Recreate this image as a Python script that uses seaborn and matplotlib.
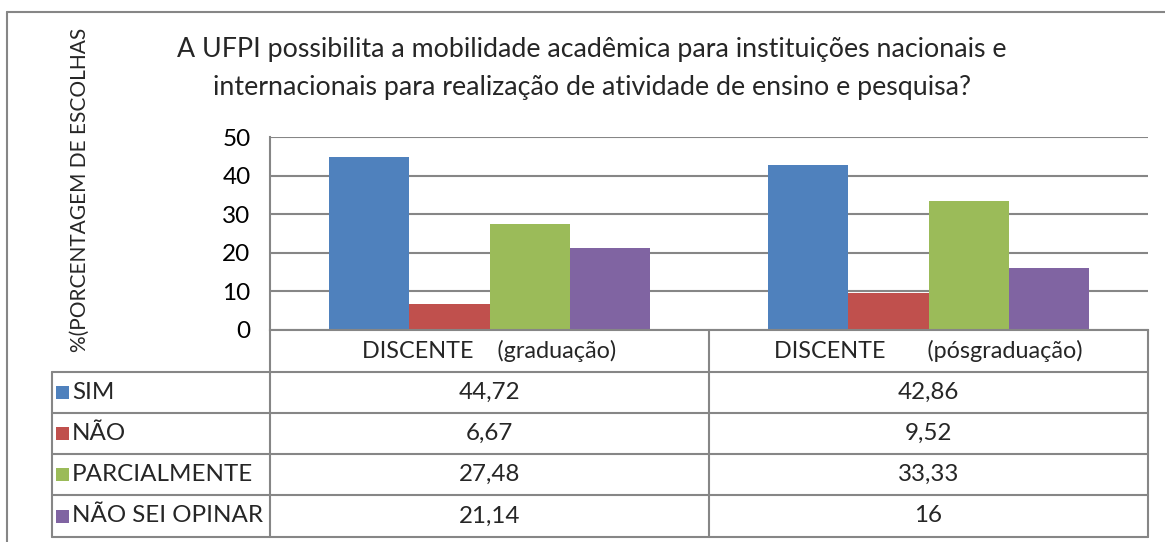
import numpy as np
import pandas as pd
import matplotlib
matplotlib.use("Agg")
import matplotlib.pyplot as plt
import seaborn as sns
from matplotlib.lines import Line2D
from matplotlib.patches import Rectangle

# ----------------------------------------------------------------------
# data
# ----------------------------------------------------------------------
groups = ["DISCENTE    (graduação)", "DISCENTE       (pósgraduação)"]
answers = ["SIM", "NÃO", "PARCIALMENTE", "NÃO SEI OPINAR"]
grad_values = [44.72, 6.67, 27.48, 21.14]
posgrad_values = [42.86, 9.52, 33.33, 16]
colors = ["#4F81BD", "#C0504D", "#9BBB59", "#8064A2"]
title_lines = ["A UFPI possibilita a mobilidade acadêmica para instituições nacionais e",
               "internacionais para realização de atividade de ensino e pesquisa?"]
ylabel = "%(PORCENTAGEM DE ESCOLHAS"

df = pd.DataFrame({
    "grupo": [groups[0]] * 4 + [groups[1]] * 4,
    "resposta": answers * 2,
    "valor": grad_values + posgrad_values,
})

sns.set_style("white")
plt.rcParams["font.family"] = ["Lato", "DejaVu Sans"]

W, H = 1165, 542
fig = plt.figure(figsize=(W / 100, H / 100), dpi=100)

def fx(x):
    return x / W

def fy(y):
    return 1 - y / H

grid_c = "#868686"

# outer chart frame (cropped at right and bottom)
fig.add_artist(Line2D([fx(7), 1], [fy(12), fy(12)], color=grid_c, lw=1.5))
fig.add_artist(Line2D([fx(7), fx(7)], [fy(12), 0], color=grid_c, lw=1.5))

# plot area
left, right, top, bottom = 270, 1148, 137, 330
ax = fig.add_axes([fx(left), fy(bottom), fx(right - left), (bottom - top) / H])
sns.barplot(data=df, x="grupo", y="valor", hue="resposta", hue_order=answers,
            palette=colors, width=0.729, gap=0, saturation=1, legend=False,
            edgecolor="none", ax=ax)
ax.set_ylim(0, 50)
ax.set_xlim(-0.5, 1.5)
ax.set_yticks(range(0, 51, 10))
ax.yaxis.grid(True, color=grid_c, lw=1.5)
ax.set_axisbelow(True)
ax.tick_params(axis="y", labelsize=17.5, length=0, pad=14, colors="black")
ax.set_xticks([])
ax.set_xlabel("")
ax.set_ylabel("")
for s in ["top", "right"]:
    ax.spines[s].set_visible(False)
for s in ["left", "bottom"]:
    ax.spines[s].set_color(grid_c)
    ax.spines[s].set_linewidth(1.5)

# title (two centred lines) and axis label
for line, ty in zip(title_lines, [50, 88]):
    fig.text(fx(592), fy(ty), line, ha="center", va="center", fontsize=19.3)
fig.text(fx(80), fy(190), ylabel, ha="center", va="center", rotation=90,
         fontsize=15)

# data table under the plot
mid = (left + right) / 2
rows_y = [372, 413, 454, 495, 537]
tab_left = 52

def hline(x0, x1, y):
    fig.add_artist(Line2D([fx(x0), fx(x1)], [fy(y), fy(y)], color=grid_c, lw=1.5))

def vline(x, y0, y1):
    fig.add_artist(Line2D([fx(x), fx(x)], [fy(y0), fy(y1)], color=grid_c, lw=1.5))

for y in rows_y:
    hline(tab_left, right, y)
vline(tab_left, rows_y[0], rows_y[-1])
for x in [left, mid, right]:
    vline(x, bottom, rows_y[-1])

centers = [(left + mid) / 2, (mid + right) / 2]
for cx, g in zip(centers, groups):
    fig.text(fx(cx), fy((bottom + rows_y[0]) / 2), g, ha="center", va="center",
             fontsize=16.8)

def fmt(v):
    return f"{v:g}".replace(".", ",")

for i, (a, c) in enumerate(zip(answers, colors)):
    yc = (rows_y[i] + rows_y[i + 1]) / 2
    fig.add_artist(Rectangle((fx(56), fy(yc + 6.5)), 13 / W, 13 / H,
                             facecolor=c, edgecolor="none"))
    fig.text(fx(72), fy(yc), a, ha="left", va="center", fontsize=17.4)
    fig.text(fx(centers[0]), fy(yc), fmt(grad_values[i]), ha="center",
             va="center", fontsize=17.4)
    fig.text(fx(centers[1]), fy(yc), fmt(posgrad_values[i]), ha="center",
             va="center", fontsize=17.4)

fig.savefig("out.png", dpi=100, facecolor="white")
